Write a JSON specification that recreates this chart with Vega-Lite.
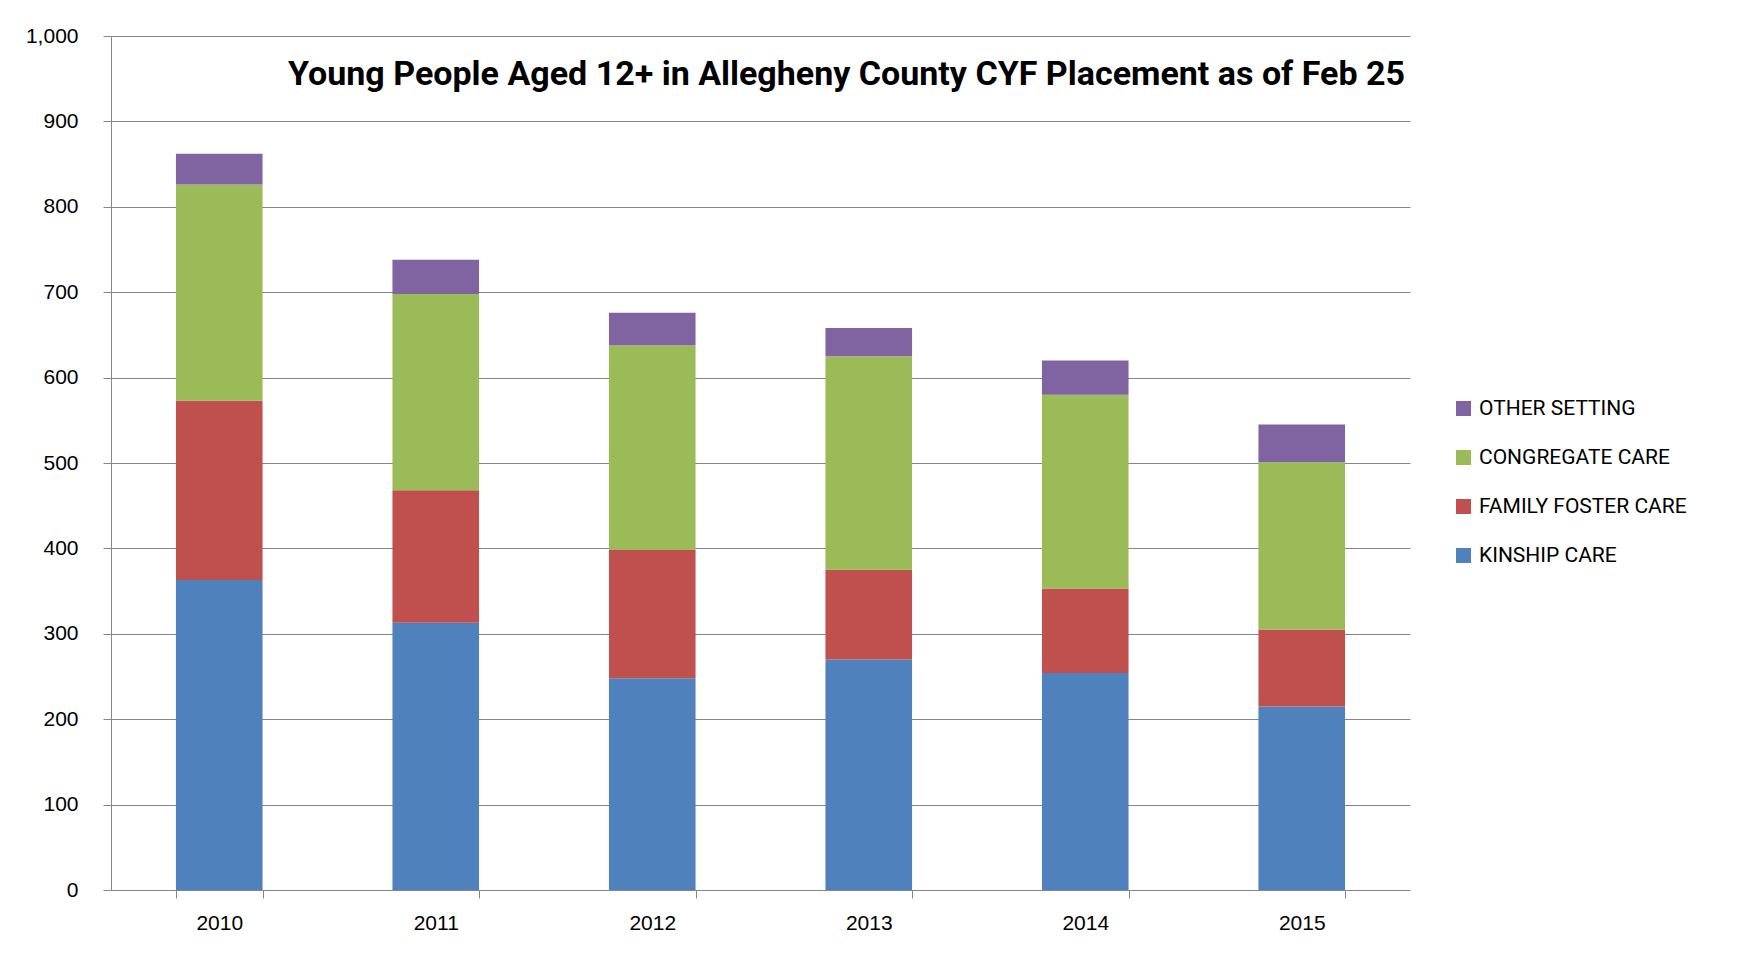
{
  "$schema": "https://vega.github.io/schema/vega-lite/v6.json",
  "autosize": {"type": "none"},
  "padding": {"left": 111, "top": 36, "right": 327, "bottom": 63},
  "width": 1299,
  "height": 854,
  "background": "white",
  "title": {
    "text": "Young People Aged 12+ in Allegheny County CYF Placement as of Feb 25",
    "anchor": "end",
    "frame": "group",
    "orient": "top",
    "offset": -50,
    "dx": -5,
    "dy": 44,
    "baseline": "alphabetic",
    "font": "Roboto",
    "fontWeight": "bold",
    "fontSize": 34,
    "color": "black"
  },
  "data": {
    "values": [
      {"year": "2010", "setting": "KINSHIP CARE", "count": 363},
      {"year": "2010", "setting": "FAMILY FOSTER CARE", "count": 210},
      {"year": "2010", "setting": "CONGREGATE CARE", "count": 253},
      {"year": "2010", "setting": "OTHER SETTING", "count": 36},
      {"year": "2011", "setting": "KINSHIP CARE", "count": 313},
      {"year": "2011", "setting": "FAMILY FOSTER CARE", "count": 155},
      {"year": "2011", "setting": "CONGREGATE CARE", "count": 230},
      {"year": "2011", "setting": "OTHER SETTING", "count": 40},
      {"year": "2012", "setting": "KINSHIP CARE", "count": 248},
      {"year": "2012", "setting": "FAMILY FOSTER CARE", "count": 150},
      {"year": "2012", "setting": "CONGREGATE CARE", "count": 240},
      {"year": "2012", "setting": "OTHER SETTING", "count": 38},
      {"year": "2013", "setting": "KINSHIP CARE", "count": 270},
      {"year": "2013", "setting": "FAMILY FOSTER CARE", "count": 105},
      {"year": "2013", "setting": "CONGREGATE CARE", "count": 250},
      {"year": "2013", "setting": "OTHER SETTING", "count": 33},
      {"year": "2014", "setting": "KINSHIP CARE", "count": 254},
      {"year": "2014", "setting": "FAMILY FOSTER CARE", "count": 99},
      {"year": "2014", "setting": "CONGREGATE CARE", "count": 227},
      {"year": "2014", "setting": "OTHER SETTING", "count": 40},
      {"year": "2015", "setting": "KINSHIP CARE", "count": 215},
      {"year": "2015", "setting": "FAMILY FOSTER CARE", "count": 90},
      {"year": "2015", "setting": "CONGREGATE CARE", "count": 196},
      {"year": "2015", "setting": "OTHER SETTING", "count": 44}
    ]
  },
  "transform": [
    {"calculate": "indexof(['KINSHIP CARE', 'FAMILY FOSTER CARE', 'CONGREGATE CARE', 'OTHER SETTING'], datum.setting)", "as": "stackOrder"}
  ],
  "mark": {"type": "bar"},
  "encoding": {
    "x": {
      "field": "year",
      "type": "nominal",
      "scale": {"paddingInner": 0.6, "paddingOuter": 0.3},
      "axis": {
        "title": null,
        "labelAngle": 0,
        "tickBand": "extent",
        "tickSize": 8,
        "labelPadding": 14,
        "labelFont": "Liberation Sans",
        "labelFontSize": 21,
        "labelColor": "black",
        "domainColor": "#868686",
        "tickColor": "#868686",
        "grid": false
      }
    },
    "y": {
      "field": "count",
      "type": "quantitative",
      "stack": "zero",
      "scale": {"domain": [0, 1000], "nice": false},
      "axis": {
        "title": null,
        "values": [0, 100, 200, 300, 400, 500, 600, 700, 800, 900, 1000],
        "format": ",d",
        "tickSize": 8,
        "labelPadding": 25,
        "labelFont": "Liberation Sans",
        "labelFontSize": 21,
        "labelColor": "black",
        "domainColor": "#868686",
        "tickColor": "#868686",
        "gridColor": "#868686",
        "gridWidth": 1
      }
    },
    "color": {
      "field": "setting",
      "type": "nominal",
      "sort": ["OTHER SETTING", "CONGREGATE CARE", "FAMILY FOSTER CARE", "KINSHIP CARE"],
      "scale": {
        "range": ["#8064A2", "#9BBB59", "#C0504D", "#4F81BD"]
      },
      "legend": {
        "title": null,
        "orient": "none",
        "legendX": 1342,
        "legendY": 362,
        "symbolType": "square",
        "symbolSize": 225,
        "symbolStrokeWidth": 0,
        "labelFont": "Roboto",
        "labelFontSize": 21,
        "labelColor": "black",
        "labelOffset": 5,
        "rowPadding": 27,
        "labelLimit": 400
      }
    },
    "order": {"field": "stackOrder", "type": "quantitative", "sort": "ascending"}
  },
  "config": {
    "view": {"stroke": null}
  }
}
